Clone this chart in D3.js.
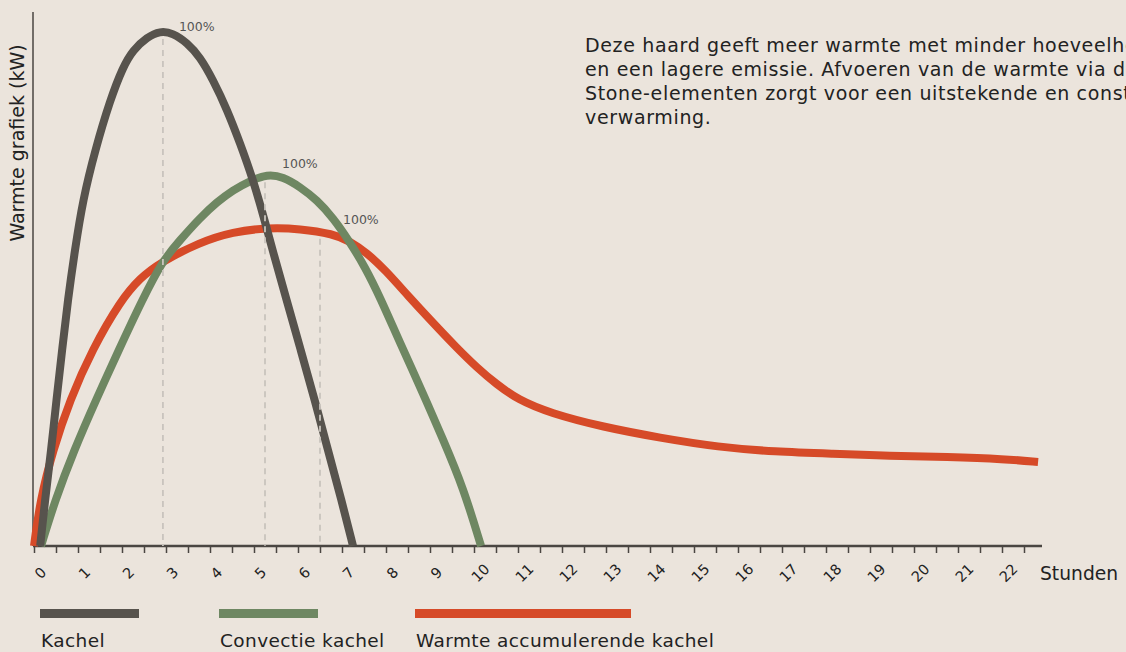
<!DOCTYPE html>
<html>
<head>
<meta charset="utf-8">
<script src="https://cdn.jsdelivr.net/npm/d3@7"></script>
<style>
  html, body { margin: 0; padding: 0; background: #ebe4dc; overflow: hidden; }
  svg { display: block; font-family: "DejaVu Sans", sans-serif; }
</style>
</head>
<body>
<svg id="chart" width="1126" height="652"></svg>
<script>
// uren (x) en relatieve warmte (y, piek kachel = 100)
var hours = d3.range(0, 23);
var kachel = [
  [0.14, 0], [0.25, 8.9], [0.39, 18.6], [0.51, 28.4], [0.64, 38.1], [0.77, 47.8],
  [0.93, 57.5], [1.11, 67.2], [1.39, 76.9], [1.73, 86.6], [2.02, 93.0], [2.25, 96.3],
  [2.57, 98.8], [2.86, 100], [3.16, 99.6], [3.48, 97.7], [3.77, 95.0], [4.07, 90.5],
  [4.39, 84.7], [4.68, 78.3], [4.98, 71.1], [5.22, 63.9], [5.42, 57.5], [5.74, 47.8],
  [6.06, 38.1], [6.38, 28.4], [6.68, 18.6], [6.99, 8.9], [7.25, 0]
];
var convectie = [
  [0.16, 0], [0.48, 8.9], [0.91, 18.6], [1.41, 28.4], [1.93, 38.1], [2.46, 47.8],
  [2.93, 55.5], [3.32, 59.4], [3.77, 63.7], [4.16, 66.8], [4.52, 69.1], [4.91, 70.9],
  [5.3, 72.2], [5.66, 71.7], [6.05, 69.7], [6.43, 67.2], [6.8, 63.7], [7.18, 59.0],
  [7.52, 54.2], [7.86, 48.4], [8.32, 39.4], [8.84, 29.7], [9.3, 20.6], [9.75, 11.5],
  [10.16, 0]
];
var accumulerend = [
  [0, 0], [0.14, 8.9], [0.43, 18.6], [0.82, 28.4], [1.32, 38.1], [1.98, 47.8],
  [2.41, 52.0], [2.86, 55.0], [3.77, 59.0], [4.52, 61.0], [5.3, 61.8], [6.05, 61.6],
  [6.8, 60.6], [7.18, 59.2], [7.57, 56.9], [7.98, 53.6], [8.52, 48.4], [9.05, 43.5],
  [9.57, 38.8], [10.07, 34.6], [10.5, 31.5], [11.0, 28.4], [11.73, 25.8], [12.93, 23.1],
  [14.23, 21.0], [15.55, 19.2], [16.84, 18.3], [18.16, 17.9], [19.45, 17.5], [20.75, 17.3],
  [22.07, 16.9], [22.82, 16.3]
];
// piekmarkeringen (100%)
var peaks = [[2.93, 100], [5.25, 72.2], [6.5, 61.2]];
var legendNames = ["Kachel", "Convectie kachel", "Warmte accumulerende kachel"];
var colors = ["#57534d", "#6e8762", "#d64a28"];
var introLines = [
  "Deze haard geeft meer warmte met minder hoeveelheid hout",
  "en een lagere emissie. Afvoeren van de warmte via de",
  "Stone-elementen zorgt voor een uitstekende en constante",
  "verwarming."
];

var svg = d3.select("#chart");
var x = d3.scaleLinear().domain([0, 22]).range([34, 1002]);
var y = d3.scaleLinear().domain([0, 100]).range([546, 31]);

var line = d3.line()
  .x(function (d) { return x(d[0]); })
  .y(function (d) { return y(d[1]); })
  .curve(d3.curveBasis);

// assen
svg.append("line")
  .attr("x1", 33).attr("x2", 33).attr("y1", 12).attr("y2", 546)
  .attr("stroke", "#4a4642").attr("stroke-width", 1.5);

var xAxis = d3.axisBottom(x)
  .tickValues(d3.range(0, 22.51, 0.5))
  .tickSize(7)
  .tickFormat("");
var gx = svg.append("g").attr("transform", "translate(0,546)").call(xAxis);
gx.select(".domain").remove();
gx.selectAll(".tick line").attr("stroke", "#4a4642").attr("stroke-width", 1.5);
svg.append("line")
  .attr("x1", 33).attr("x2", 1042).attr("y1", 546).attr("y2", 546)
  .attr("stroke", "#4a4642").attr("stroke-width", 2.5);

svg.selectAll(".hlabel").data(hours).enter().append("text")
  .attr("class", "hlabel")
  .attr("transform", function (d) { return "translate(" + (x(d) + 6.5) + ",573) rotate(-45)"; })
  .attr("text-anchor", "middle")
  .attr("dy", "0.35em")
  .attr("font-size", 14.5)
  .attr("fill", "#222")
  .text(function (d) { return d; });

svg.append("text")
  .attr("x", 1040).attr("y", 580)
  .attr("font-size", 18.7).attr("fill", "#222")
  .text("Stunden");

svg.append("text")
  .attr("transform", "translate(24,143) rotate(-90)")
  .attr("text-anchor", "middle")
  .attr("font-size", 19).attr("fill", "#222")
  .text("Warmte grafiek (kW)");

// curves
[accumulerend, convectie, kachel].forEach(function (data, i) {
  svg.append("path")
    .datum(data)
    .attr("d", line)
    .attr("fill", "none")
    .attr("stroke", colors[2 - i])
    .attr("stroke-width", 8);
});

// stippellijnen naar piek
svg.selectAll(".peak").data(peaks).enter().append("line")
  .attr("x1", function (d) { return x(d[0]); })
  .attr("x2", function (d) { return x(d[0]); })
  .attr("y1", function (d) { return y(d[1]) + 8; })
  .attr("y2", 546)
  .attr("stroke", "#c9c4bd").attr("stroke-width", 1.8)
  .attr("stroke-dasharray", "6,5");

var pctDx = [16, 17, 23], pctDy = [0, -6, -7];
svg.selectAll(".pct").data(peaks).enter().append("text")
  .attr("x", function (d, i) { return x(d[0]) + pctDx[i]; })
  .attr("y", function (d, i) { return y(d[1]) + pctDy[i]; })
  .attr("font-size", 12.5).attr("fill", "#555")
  .text("100%");

// legenda
var legX = [40, 219, 415];
var legW = [99, 99, 216];
legendNames.forEach(function (name, i) {
  svg.append("rect")
    .attr("x", legX[i]).attr("y", 609)
    .attr("width", legW[i]).attr("height", 9)
    .attr("fill", colors[i]);
  svg.append("text")
    .attr("x", legX[i] + 1).attr("y", 647)
    .attr("font-size", 18.5).attr("letter-spacing", 0.4).attr("fill", "#222")
    .text(name);
});

// toelichting
svg.append("g").selectAll("text").data(introLines).enter().append("text")
  .attr("x", 585)
  .attr("y", function (d, i) { return 52 + i * 24; })
  .attr("font-size", 19).attr("letter-spacing", 0.65).attr("fill", "#222")
  .text(function (d) { return d; });
</script>
</body>
</html>
